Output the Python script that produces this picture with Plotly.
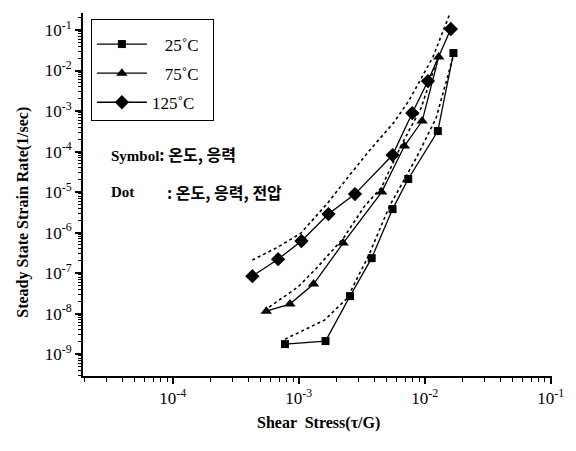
import plotly.graph_objects as go

# ---- data ----
labels = ["\u00a0\u00a0\u00a025\u02daC\u00a0\u00a0", "\u00a0\u00a0\u00a075\u02daC\u00a0\u00a0", "125\u02daC\u00a0\u00a0"]

# 25 C (squares)
x25 = [7.77e-4, 1.63e-3, 2.55e-3, 3.79e-3, 5.55e-3, 7.39e-3, 1.27e-2, 1.69e-2]
y25 = [1.77e-9, 2.1e-9, 2.7e-8, 2.34e-7, 3.8e-6, 2.1e-5, 3.2e-4, 2.7e-2]
# 75 C (triangles)
x75 = [5.52e-4, 8.5e-4, 1.31e-3, 2.25e-3, 4.55e-3, 6.89e-3, 9.53e-3, 1.29e-2]
y75 = [1.15e-8, 1.72e-8, 5.35e-8, 5.5e-7, 1.0e-5, 1.37e-4, 5.66e-4, 2.15e-2]
# 125 C (diamonds)
x125 = [4.28e-4, 6.85e-4, 1.05e-3, 1.72e-3, 2.79e-3, 5.55e-3, 7.96e-3, 1.06e-2, 1.61e-2]
y125 = [8.4e-8, 2.2e-7, 6.2e-7, 2.86e-6, 8.9e-6, 8.2e-5, 8.9e-4, 5.5e-3, 0.106]

# dotted curves (temperature, stress, voltage model)
dx25 = [7.77e-4, 1.6e-3, 2.42e-3, 3.6e-3, 5.25e-3, 8.55e-3, 1.23e-2, 1.67e-2]
dy25 = [2.34e-9, 6.9e-9, 2.4e-8, 2.8e-7, 4.5e-6, 6.9e-5, 6.7e-4, 2.04e-2]
dx75 = [5.82e-4, 9.82e-4, 1.41e-3, 2.29e-3, 3.29e-3, 4.55e-3, 6.52e-3, 9.35e-3, 1.25e-2]
dy75 = [1.45e-8, 4.5e-8, 1.41e-7, 7.7e-7, 4.3e-6, 1.33e-5, 1.45e-4, 1.19e-3, 1.8e-2]
dx125 = [4.28e-4, 6.85e-4, 1.04e-3, 1.69e-3, 2.42e-3, 3.66e-3, 5.65e-3, 7.54e-3, 1.16e-2, 1.58e-2]
dy125 = [2.1e-7, 4.4e-7, 9.7e-7, 5.3e-6, 2.2e-5, 1.09e-4, 5.1e-4, 1.87e-3, 2.15e-2, 0.25]

x_ticks = [1e-4, 1e-3, 1e-2, 1e-1]
x_tick_text = ["10<sup>-4</sup>", "10<sup>-3</sup>", "10<sup>-2</sup>", "10<sup>-1</sup>"]
y_ticks = [1e-9, 1e-8, 1e-7, 1e-6, 1e-5, 1e-4, 1e-3, 1e-2, 1e-1]
y_tick_text = ["10<sup>-%d</sup>" % k for k in range(9, 0, -1)]

minor_x = [m * 10.0 ** k for k in range(-5, 0) for m in range(2, 10)]
minor_y = [m * 10.0 ** k for k in range(-10, 0) for m in range(2, 10)]

SERIF = "Liberation Serif"
KOR = "Noto Sans CJK KR"
fig = go.Figure()

for dx, dy in [(dx25, dy25), (dx75, dy75), (dx125, dy125)]:
    fig.add_trace(go.Scatter(x=dx, y=dy, mode="lines", showlegend=False,
                             line=dict(color="black", width=1.6, dash="dot")))

series = [(x25, y25, "square", 8), (x75, y75, "triangle-up", 10), (x125, y125, "diamond", 11)]
for i, (xs, ys, sym, sz) in enumerate(series):
    fig.add_trace(go.Scatter(x=xs, y=ys, mode="lines+markers", name=labels[i],
                             legendgroup="g%d" % i,
                             line=dict(color="black", width=1.3),
                             marker=dict(symbol=sym, size=sz, color="black")))

L, R, T, B = 83, 18, 13, 75
W, H = 576, 451
pw, ph = W - L - R, H - T - B

def px(x):
    return (x - L) / pw

def py(y):
    return (H - B - y) / ph

fig.update_layout(
    width=W, height=H,
    margin=dict(l=L, r=R, t=T, b=B),
    paper_bgcolor="white", plot_bgcolor="white",
    font=dict(family=SERIF, color="black", size=15),
    legend=dict(x=px(91), y=py(19), xanchor="left", yanchor="top",
                bordercolor="black", borderwidth=1, bgcolor="white",
                font=dict(family=SERIF, size=17), itemwidth=50,
                tracegroupgap=4,
                title=dict(text="\u00a0", font=dict(size=5))),
    xaxis=dict(type="log", range=[-4.713, -0.99], showline=True, linecolor="black",
               linewidth=2, showgrid=False, zeroline=False,
               tickvals=x_ticks, ticktext=x_tick_text, ticks="outside", ticklen=6,
               tickwidth=1.5, tickcolor="black", tickfont=dict(family=SERIF, size=17),
               minor=dict(tickvals=minor_x, ticks="outside", ticklen=4, tickcolor="black",
                          tickwidth=1.2, showgrid=False)),
    yaxis=dict(type="log", range=[-9.54, -0.58], showline=True, linecolor="black",
               linewidth=2, showgrid=False, zeroline=False,
               tickvals=y_ticks, ticktext=y_tick_text, ticks="outside", ticklen=6,
               tickwidth=1.5, tickcolor="black", tickfont=dict(family=SERIF, size=17),
               minor=dict(tickvals=minor_y, ticks="outside", ticklen=3, tickcolor="black",
                          tickwidth=1, showgrid=False)),
)

kor_span = "<span style='font-family:\"Noto Sans CJK KR\";font-size:16px'><b>%s</b></span>"
ann = [
    dict(x=px(22), y=py(212), text="<b>Steady State Strain Rate(1/sec)</b>", textangle=-90,
         xanchor="center", yanchor="middle", font=dict(family=SERIF, size=16)),
    dict(x=px(322), y=py(423), text="<b>Shear  Stress(\u03c4/G)</b>",
         xanchor="center", yanchor="middle", font=dict(family=SERIF, size=16)),
    dict(x=px(109), y=py(154), text="<b>Symbol</b>" + kor_span % ": 온도, 응력",
         xanchor="left", yanchor="middle", font=dict(family=SERIF, size=15)),
    dict(x=px(109), y=py(192), text="<b>Dot</b>", xanchor="left", yanchor="middle",
         font=dict(family=SERIF, size=15)),
    dict(x=px(166), y=py(192), text="<b>: 온도, 응력, 전압</b>", xanchor="left", yanchor="middle",
         font=dict(family=KOR, size=16)),
]
for a in ann:
    a.update(xref="paper", yref="paper", showarrow=False)
    fig.add_annotation(**a)

fig.write_html("out.html")
